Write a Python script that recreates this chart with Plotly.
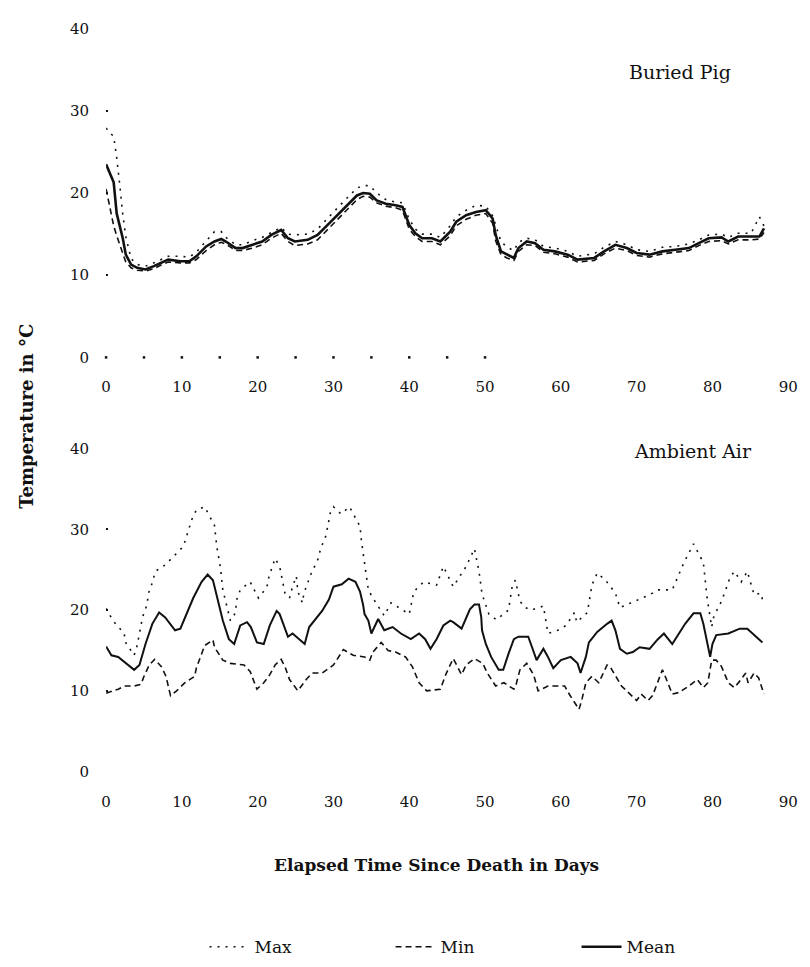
import plotly.graph_objects as go

# ---------------- DATA ----------------
x_ticks = [0, 10, 20, 30, 40, 50, 60, 70, 80, 90]
y_ticks = [0, 10, 20, 30, 40]
# dotted baseline marks on the top panel's zero line (every 5 days up to day 50)
baseline_days = [0, 5, 10, 15, 20, 25, 30, 35, 40, 45, 50]
baseline_level = [0] * len(baseline_days)

# Buried Pig (top panel)
days_pig = [0, 0.5, 1, 1.4, 1.8, 2.2, 2.6, 3.3, 4.1, 5.2,
            6.3, 7.6, 8.2, 9.8, 11, 11.9, 13.2, 14.3, 15.2, 15.8,
            17.1, 18, 19.3, 20.6, 21.8, 23.1, 24, 24.9, 26.6, 27.9,
            29.2, 30.5, 31.8, 33.1, 33.9, 34.8, 35.7, 36.9, 38.2, 39.1,
            40, 40.8, 41.7, 43, 44.1, 45.4, 46.2, 47.5, 48.8, 50.1,
            51, 51.4, 52.1, 52.9, 53.8, 54.4, 55.5, 56.6, 57.7, 59.2,
            60.9, 62.2, 64.4, 65.7, 67.2, 68.7, 70, 71.7, 73.4, 75.1,
            76.9, 78.2, 79.5, 81.2, 82.1, 83.4, 85.1, 86.2, 86.8]
pig_mean = [23.5, 22.5, 21.3, 17.5, 16.1, 14.5, 12.5, 11.3, 10.9, 10.7,
            11.1, 11.7, 11.9, 11.7, 11.7, 12.3, 13.5, 14.1, 14.4, 14.1,
            13.3, 13.3, 13.7, 14.1, 14.9, 15.5, 14.5, 14.1, 14.3, 14.9,
            16.1, 17.3, 18.5, 19.7, 20.0, 19.9, 19.1, 18.7, 18.5, 18.3,
            16.1, 15.1, 14.5, 14.5, 14.1, 15.3, 16.5, 17.3, 17.7, 17.9,
            16.9, 14.9, 12.9, 12.5, 12.1, 13.3, 14.1, 13.9, 13.1, 12.9,
            12.5, 11.9, 12.1, 12.9, 13.7, 13.3, 12.7, 12.5, 12.9, 13.1,
            13.3, 13.9, 14.5, 14.6, 14.1, 14.7, 14.7, 14.7, 15.7]
pig_max = [27.9, 27.3, 26.9, 24.3, 21.0, 17.4, 14.7, 12.0, 11.3, 11.1,
           11.5, 12.1, 12.3, 12.3, 12.2, 12.8, 14.2, 15.3, 15.3, 14.6,
           13.7, 13.7, 14.2, 14.6, 15.2, 15.8, 15.0, 14.9, 15.0, 15.6,
           16.9, 18.2, 19.4, 20.6, 20.9, 20.9, 20.0, 19.2, 18.9, 18.8,
           16.8, 15.6, 15.0, 15.0, 14.6, 16.0, 17.1, 17.9, 18.5, 18.4,
           17.2, 16.1, 14.1, 13.4, 13.0, 14.0, 14.5, 14.3, 13.5, 13.3,
           12.9, 12.3, 12.6, 13.4, 14.1, 13.7, 13.1, 12.9, 13.4, 13.5,
           13.8, 14.3, 14.9, 15.0, 14.6, 15.1, 15.1, 17.1, 16.0]
pig_min = [20.5, 18.1, 16.0, 14.8, 13.7, 12.5, 11.6, 10.9, 10.6, 10.5,
           10.8, 11.4, 11.6, 11.5, 11.5, 11.9, 13.0, 13.7, 14.0, 13.8,
           13.0, 13.0, 13.3, 13.7, 14.5, 15.1, 14.1, 13.6, 13.8, 14.3,
           15.5, 16.8, 18.0, 19.2, 19.6, 19.5, 18.8, 18.4, 18.2, 17.9,
           15.6, 14.7, 14.1, 14.1, 13.7, 14.8, 16.0, 16.8, 17.3, 17.5,
           16.3, 14.2, 12.5, 12.1, 11.8, 12.9, 13.7, 13.6, 12.8, 12.6,
           12.2, 11.6, 11.8, 12.6, 13.3, 13.0, 12.4, 12.2, 12.6, 12.8,
           13.0, 13.6, 14.1, 14.2, 13.8, 14.3, 14.3, 14.4, 15.2]

# Ambient Air (bottom panel)
days_air_mean = [0, 0.7, 1.6, 2.6, 3.7, 4.4, 5.2, 6.1, 7, 7.8, 9.1, 9.8, 10.6, 11.5, 12.6,
                 13.4, 14.1, 14.7, 15.4, 16.2, 16.9, 17.7, 18.6, 19.1, 19.9, 20.8, 21.6,
                 22.5, 22.9, 24, 24.6, 25.1, 26.2, 26.8, 27.7, 28.5, 29.4, 30, 31.1, 32,
                 32.9, 33.5, 33.9, 34.1, 34.6, 35, 35.9, 36.7, 37.8, 38.9, 40.2, 41.3, 42.1,
                 42.8, 43.6, 44.5, 45.4, 45.8, 46.9, 47.5, 48, 48.6, 49.2, 49.5, 49.6, 50.1,
                 50.8, 51.8, 52.4, 53.1, 53.8, 54.4, 55.7, 56.2, 56.8, 57.7, 58.3, 59, 60,
                 61.3, 62.2, 62.6, 63.3, 63.7, 64.8, 66.1, 66.7, 67.2, 67.8, 68.7, 69.5,
                 70.4, 71.7, 72.8, 73.6, 74.7, 75.6, 76.4, 77.5, 78.4, 78.8, 79.3, 79.7,
                 80, 80.5, 82.1, 83.6, 84.6, 85.5, 86.6]
air_mean = [15.5, 14.4, 14.2, 13.4, 12.6, 13.2, 15.8, 18.3, 19.7, 19.1, 17.5, 17.7, 19.5, 21.5, 23.5,
            24.4, 23.7, 21.5, 18.7, 16.4, 15.8, 18.1, 18.5, 17.9, 16.0, 15.8, 18.1,
            19.9, 19.5, 16.7, 17.1, 16.7, 15.8, 17.9, 18.9, 19.9, 21.3, 22.9, 23.2, 23.9,
            23.5, 22.3, 20.7, 19.5, 18.7, 17.1, 18.9, 17.5, 17.9, 17.1, 16.4, 17.1, 16.4,
            15.2, 16.4, 18.1, 18.7, 18.5, 17.7, 19.1, 20.1, 20.7, 20.7, 19.1, 17.5, 15.8,
            14.2, 12.6, 12.6, 14.6, 16.4, 16.7, 16.7, 15.4, 13.8, 15.2, 14.2, 12.8, 13.8,
            14.2, 13.4, 12.2, 14.2, 16.0, 17.3, 18.3, 18.7, 17.5, 15.2, 14.6, 14.8,
            15.4, 15.2, 16.4, 17.1, 15.8, 17.1, 18.3, 19.6, 19.6, 18.3, 15.8, 14.2,
            15.8, 16.9, 17.1, 17.7, 17.7, 16.9, 16.0]

days_air_max = [0, 0.9, 2.4, 2.5, 3.7, 4.1, 4.8, 5.4, 5.6, 6.1, 6.5, 7.8, 10.2, 11.3, 11.9,
                13, 14.3, 14.6, 15.1, 15.4, 16.4, 17.1, 17.2, 17.7, 19, 20.1, 21.2, 21.5,
                22.3, 22.9, 23.6, 24.2, 24.6, 25.1, 25.3, 25.9, 26.1, 26.6, 27, 28, 28.3,
                29, 29.3, 29.6, 30, 31, 32.1, 33.5, 33.7, 34.1, 34.6, 35.2, 36.7, 37.6, 40,
                40.6, 41.9, 43.6, 44.5, 45.8, 47.5, 48.6, 49.2, 49.6, 50.5, 51.5, 52.5, 53.1,
                53.6, 54, 54.6, 55.3, 56.1, 57.7, 58.3, 59.6, 60.7, 61.8, 62.1, 63.5, 64.1,
                64.8, 65.9, 67.2, 67.8, 69.3, 71.7, 72.8, 74.7, 76.2, 76.9, 77.5, 78.8, 79.3,
                79.9, 80.2, 81, 81.6, 82.3, 82.9, 83.8, 84.6, 85.5, 86.4, 86.7]
air_max = [20.2, 18.7, 17.1, 16.1, 14.4, 15.6, 19.1, 20.7, 22.1, 23.4, 24.8, 25.6, 27.9, 31.2, 32.4,
           32.8, 30.5, 27.9, 25.2, 22.5, 18.7, 19.7, 21.2, 22.5, 23.5, 21.5, 22.8, 24.2,
           26.4, 25.4, 22.1, 21.5, 22.9, 24.2, 22.3, 20.9, 22.1, 23.5, 24.4, 26.4, 27.6,
           29.2, 30.8, 32.1, 32.8, 31.9, 32.8, 30.4, 28.5, 26.0, 22.5, 21.5, 19.3, 20.9, 19.5,
           22.3, 23.5, 23.1, 25.4, 22.9, 25.4, 27.6, 24.8, 22.0, 19.5, 18.8, 19.5, 20.0,
           23.1, 23.7, 21.1, 20.3, 20.0, 20.5, 17.1, 17.5, 18.1, 19.7, 18.5, 19.7, 23.1,
           24.6, 23.7, 22.1, 20.3, 20.9, 21.9, 22.5, 22.5, 25.8, 27.0, 28.2, 25.9, 21.5,
           17.9, 19.3, 20.7, 22.1, 24.0, 24.8, 23.5, 24.8, 21.9, 22.1, 20.9]

days_air_min = [0, 1.6, 2.4, 3.7, 4.6, 5, 5.7, 6.4, 7.3, 7.9, 8.5, 9.3, 10.4, 11.7, 11.9,
                12.6, 13, 14.1, 14.3, 15.4, 16.4, 18.2, 19, 19.9, 20.8, 21.6, 22.3, 23.1,
                23.6, 24.2, 25.3, 26.4, 27.2, 28.5, 30, 31.3, 32.6, 34.1, 34.8, 35.2, 36.3,
                37.2, 38.2, 39.5, 40.4, 41.3, 42.3, 44.1, 44.9, 45.8, 46.9, 47.5, 48.6, 49.7,
                50.3, 51.4, 52.5, 53.8, 54.1, 54.6, 55.5, 56.4, 57, 58.3, 60.5, 61.1, 62.4,
                62.8, 63.3, 64.1, 65, 66.1, 66.5, 68, 69.1, 70, 70.6, 71.5, 72.1, 72.8, 73.4,
                73.6, 74.7, 75.6, 76.9, 78, 78.8, 79.4, 79.9, 80.5, 81.2, 82.1, 82.9, 83.6,
                84.4, 84.7, 85.5, 86.1, 86.8]
air_min = [9.7, 10.2, 10.6, 10.6, 10.8, 11.8, 13.2, 13.9, 13.0, 11.8, 9.4, 10.0, 11.0, 11.8, 12.8,
           14.6, 15.6, 16.3, 15.4, 13.8, 13.4, 13.2, 12.4, 10.2, 11.0, 12.0, 13.2, 13.9,
           13.0, 11.4, 10.0, 11.4, 12.2, 12.2, 13.2, 15.1, 14.4, 14.2, 13.8, 14.8, 16.0,
           15.0, 14.8, 14.2, 13.0, 11.0, 10.0, 10.2, 12.2, 14.0, 12.0, 13.2, 14.0, 13.4,
           12.2, 10.6, 11.0, 10.2, 10.8, 12.6, 13.4, 12.0, 10.0, 10.6, 10.6, 9.6, 7.7,
           9.0, 11.0, 11.8, 11.0, 13.2, 13.0, 10.6, 9.6, 8.8, 9.6, 8.8, 9.4, 11.0, 12.6,
           12.2, 9.6, 9.8, 10.6, 11.4, 10.4, 11.0, 13.8, 13.8, 13.0, 11.0, 10.4, 11.2,
           12.2, 11.0, 12.2, 11.6, 9.6]

# ---------------- STYLE ----------------
FONT = "DejaVu Serif"
INK = "#111111"
MAX_LINE = dict(color=INK, width=1.6, dash="2px,6px")
MIN_LINE = dict(color=INK, width=1.6, dash="6px,4px")
MEAN_TOP = dict(color=INK, width=2.6)
MEAN_BOT = dict(color=INK, width=2.0)

fig = go.Figure()

# baseline dot row (top panel)
fig.add_trace(go.Scatter(x=baseline_days, y=baseline_level, mode="markers",
                         marker=dict(symbol="square", size=2.5, color=INK, line=dict(width=0)),
                         xaxis="x", yaxis="y", showlegend=False, hoverinfo="skip",
                         cliponaxis=False))

# top panel
fig.add_trace(go.Scatter(x=days_pig, y=pig_max, mode="lines", name="Max", line=MAX_LINE,
                         xaxis="x", yaxis="y", legendrank=1))
fig.add_trace(go.Scatter(x=days_pig, y=pig_min, mode="lines", name="Min", line=MIN_LINE,
                         xaxis="x", yaxis="y", legendrank=2))
fig.add_trace(go.Scatter(x=days_pig, y=pig_mean, mode="lines", name="Mean", line=MEAN_TOP,
                         xaxis="x", yaxis="y", legendrank=3))
# bottom panel
fig.add_trace(go.Scatter(x=days_air_max, y=air_max, mode="lines", name="Max", line=MAX_LINE,
                         xaxis="x2", yaxis="y2", showlegend=False))
fig.add_trace(go.Scatter(x=days_air_min, y=air_min, mode="lines", name="Min", line=MIN_LINE,
                         xaxis="x2", yaxis="y2", showlegend=False))
fig.add_trace(go.Scatter(x=days_air_mean, y=air_mean, mode="lines", name="Mean", line=MEAN_BOT,
                         xaxis="x2", yaxis="y2", showlegend=False))

W, H = 810, 967
xdom = [103 / W, 798 / W]
xcommon = dict(domain=xdom, range=[0, 90], tickvals=x_ticks, showgrid=False, zeroline=False,
               showline=False, ticks="", tickfont=dict(family=FONT, size=15, color=INK),
               ticklabelstandoff=19, fixedrange=True)
ycommon = dict(range=[0, 40], tickvals=y_ticks, showgrid=False, zeroline=False, showline=False,
               ticks="inside", ticklen=2, tickwidth=2, tickcolor=INK,
               tickfont=dict(family=FONT, size=15, color=INK),
               ticklabelstandoff=16, fixedrange=True)


def note(text, px, py, size, angle=0):
    return dict(text=text, x=px / W, y=1 - py / H, xref="paper", yref="paper",
                xanchor="center", yanchor="middle", showarrow=False, textangle=angle,
                font=dict(family=FONT, size=size, color=INK))


fig.update_layout(
    width=W, height=H,
    margin=dict(l=0, r=0, t=0, b=0),
    paper_bgcolor="white", plot_bgcolor="white",
    font=dict(family=FONT, color=INK),
    xaxis=dict(**xcommon, anchor="y"),
    xaxis2=dict(**xcommon, anchor="y2"),
    yaxis=dict(**ycommon, domain=[1 - 355 / H, 1 - 20 / H], anchor="x"),
    yaxis2=dict(**ycommon, domain=[1 - 777 / H, 1 - 448 / H], anchor="x2"),
    legend=dict(orientation="h", x=0.251, y=1 - 956 / H, xanchor="left", yanchor="middle",
                font=dict(family=FONT, size=17, color=INK), entrywidth=131,
                entrywidthmode="pixels", itemwidth=40, bgcolor="rgba(0,0,0,0)"),
    showlegend=True,
    annotations=[
        note("Buried Pig", 688, 64, 19),
        note("Ambient Air", 701, 450, 19),
        note("<b>Elapsed Time Since Death in Days</b>", 440, 872, 17),
        note("<b>Temperature in °C</b>", 22, 415, 18, angle=-90),
    ],
)

fig.write_html("out.html")
